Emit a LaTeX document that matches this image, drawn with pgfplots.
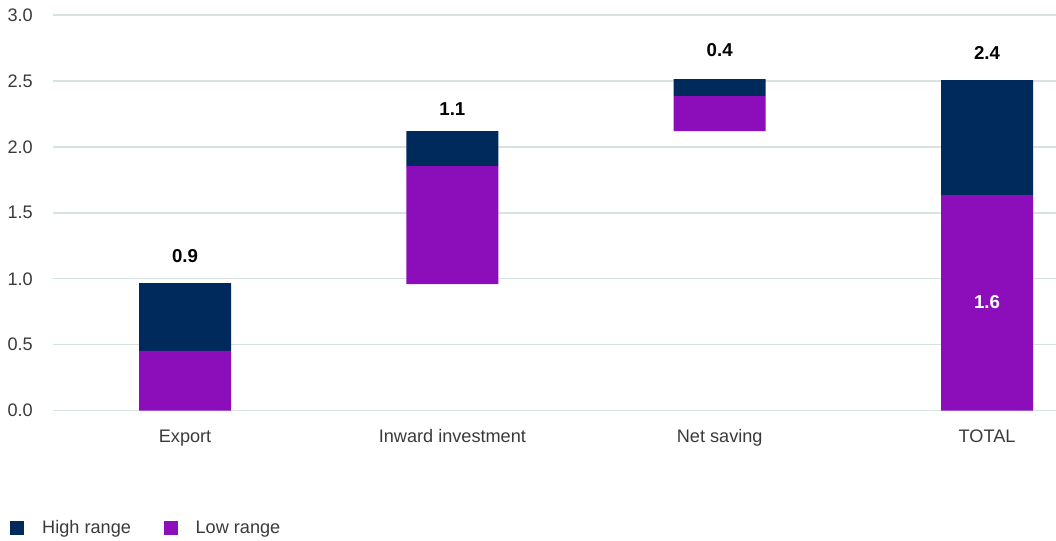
\documentclass[border=0pt]{standalone}
\usepackage{pgfplots}
\pgfplotsset{compat=1.18}
\usepackage{fontspec}
\setmainfont{Liberation Sans}
\definecolor{navy}{HTML}{002A5C}
\definecolor{purp}{HTML}{8C0DBA}
\definecolor{gridc}{HTML}{D7E3E3}
\definecolor{txt}{HTML}{3A3A3A}
\begin{document}
\begin{tikzpicture}
\useasboundingbox (0,0) rectangle (792pt,405pt);
\begin{axis}[
  at={(39.75pt,96.975pt)}, anchor=south west,
  scale only axis, width=752.25pt, height=296.8pt,
  ybar stacked, bar width=69pt,
  xmin=-0.494, xmax=3.258, ymin=0, ymax=3,
  xtick={0,1,2,3}, xticklabels={Export,Inward investment,Net saving,TOTAL},
  ytick={0,0.5,...,3},
  /pgf/number format/fixed, /pgf/number format/fixed zerofill, /pgf/number format/precision=1,
  /pgf/number format/assume math mode=true,
  axis line style={draw=none},
  major tick length=0pt,
  ymajorgrids, grid style={gridc, line width=1pt},
  tick label style={font=\fontsize{13.6}{15}\selectfont, text=txt},
  yticklabel style={anchor=east, inner sep=0pt, xshift=-15pt},
  xticklabel style={anchor=north, inner sep=0pt, yshift=-14pt},
  legend style={draw=none, fill=none, at={(-0.0429,-0.296)}, anchor=west,
    inner sep=0pt, font=\fontsize{13.6}{15}\selectfont, text=txt,
    nodes={inner sep=0pt, anchor=west},
    /tikz/every odd column/.append style={column sep=13.5pt},
    /tikz/every even column/.append style={column sep=24.5pt}},
  legend columns=2,
  legend image code/.code={\fill[#1] (0pt,-5.25pt) rectangle (10.5pt,5.25pt);},
]
\addplot[fill=none, draw=none, forget plot] coordinates {(0,0) (1,0.96) (2,2.12) (3,0)};
\addplot[fill=purp, draw=none, forget plot] coordinates {(0,0.453) (1,0.895) (2,0.265) (3,1.635)};
\addplot[fill=navy, draw=none, forget plot] coordinates {(0,0.515) (1,0.265) (2,0.129) (3,0.872)};
\addlegendimage{fill=navy, draw=none}
\addlegendentry{High range}
\addlegendimage{fill=purp, draw=none}
\addlegendentry{Low range}
\coordinate (la) at (axis cs:0,1.173);
\coordinate (lb) at (axis cs:1,2.287);
\coordinate (lc) at (axis cs:2,2.737);
\coordinate (ld) at (axis cs:3,2.713);
\coordinate (le) at (axis cs:3,0.82);
\end{axis}
\begin{scope}[every node/.style={font=\bfseries\fontsize{14}{16}\selectfont}]
\node at (la) {0.9};
\node at (lb) {1.1};
\node at (lc) {0.4};
\node at (ld) {2.4};
\node[text=white] at (le) {1.6};
\end{scope}
\end{tikzpicture}
\end{document}
